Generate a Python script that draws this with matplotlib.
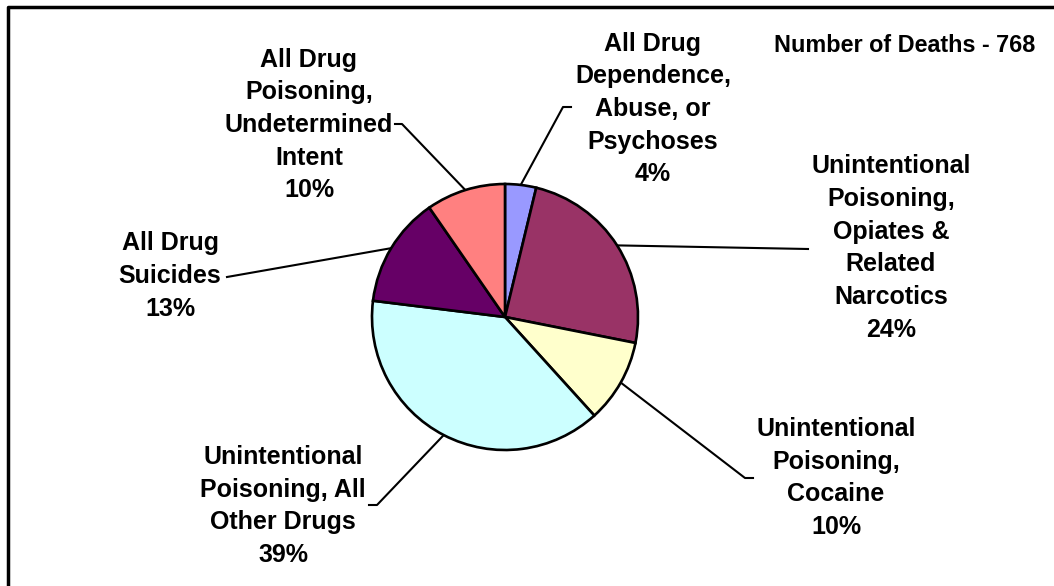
import numpy as np
import matplotlib.pyplot as plt

# Drug-related deaths by category
labels = [
    "All Drug\nDependence,\nAbuse, or\nPsychoses",
    "Unintentional\nPoisoning,\nOpiates &\nRelated\nNarcotics",
    "Unintentional\nPoisoning,\nCocaine",
    "Unintentional\nPoisoning, All\nOther Drugs",
    "All Drug\nSuicides",
    "All Drug\nPoisoning,\nUndetermined\nIntent",
]
deaths = [29, 187, 78, 297, 103, 74]
colors = ['#9999FF', '#993366', '#FFFFCC', '#CCFFFF', '#660066', '#FF8080']
total_text = "Number of Deaths - 768"

W, H = 1054, 586

# label centres and leader line bends, in pixels from top-left
label_pos = [(653, 109), (891, 248), (836, 478), (283, 506), (170, 276), (309, 125)]
leader_pts = [
    [(563, 107), (571, 107)],
    [(808, 249)],
    [(745, 478), (753, 478)],
    [(377, 505), (369, 505)],
    [(227, 277)],
    [(402, 124), (395, 124)],
]

plt.rcParams['font.family'] = ['Liberation Sans', 'DejaVu Sans']

fig = plt.figure(figsize=(W / 100, H / 100), dpi=100)
ax = fig.add_axes([0, 0, 1, 1])

cx, cy, r = 505, H - 317, 133
wedges, _ = ax.pie(deaths, colors=colors, startangle=90, counterclock=False,
                   center=(cx, cy), radius=r, frame=True,
                   wedgeprops=dict(edgecolor='black', linewidth=1.9))
ax.set_xlim(0, W)
ax.set_ylim(0, H)
ax.set_aspect('equal')
ax.axis('off')

total = sum(deaths)
for w, lab, n, (lx, ly), pts in zip(wedges, labels, deaths, label_pos, leader_pts):
    pct = round(100 * n / total)
    ax.text(lx, H - ly, f"{lab}\n{pct}%", ha='center', va='center',
            fontsize=18, fontweight='bold', linespacing=1.46)
    mid = np.deg2rad((w.theta1 + w.theta2) / 2)
    xs = [cx + r * np.cos(mid)] + [p[0] for p in pts]
    ys = [cy + r * np.sin(mid)] + [H - p[1] for p in pts]
    ax.plot(xs, ys, color='black', linewidth=1.5, zorder=0)

ax.text(1035, H - 45, total_text, ha='right', va='center',
        fontsize=16.8, fontweight='bold')

# chart frame (right and bottom edges fall outside the picture)
ax.plot([8, 8, W + 5], [-5, H - 7, H - 7], color='black', linewidth=2.5,
        clip_on=False)

fig.savefig('out.png', dpi=100)
